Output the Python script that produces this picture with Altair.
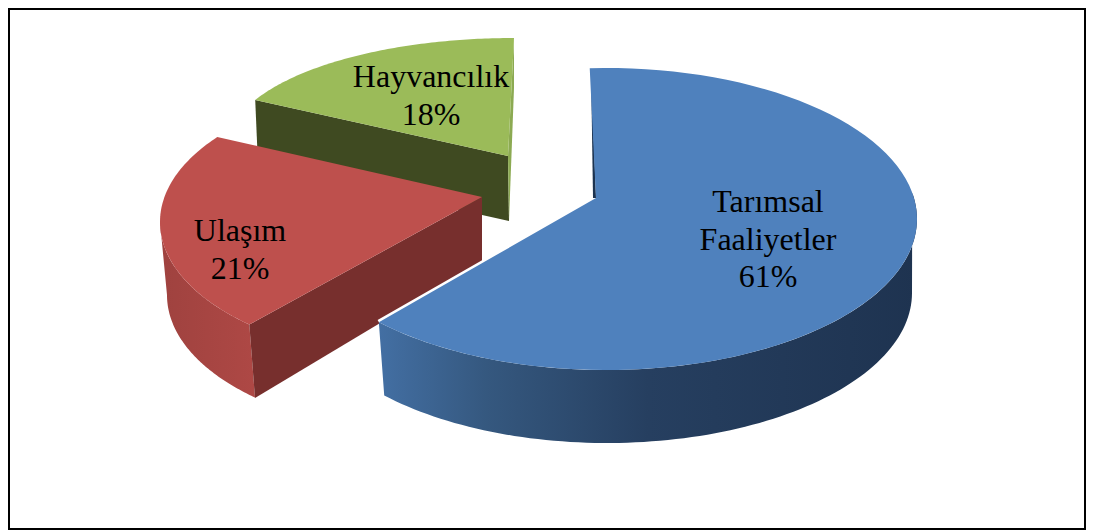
import numpy as np
import pandas as pd
import altair as alt

labels = [["Tarımsal", "Faaliyetler"], ["Ulaşım"], ["Hayvancılık"]]
values = [61, 21, 18]

# perspective fit of each exploded slice
W, H = 1076, 520
X0, Y0 = 9, 9
xs = alt.Scale(domain=[X0, X0 + W], nice=False, zero=False)
ys = alt.Scale(domain=[Y0 + H, Y0], nice=False, zero=False)


def arc(cx, cy, a, b, t1, t2, n=90):
    t = np.radians(np.linspace(t1, t2, n))
    return list(zip(cx + a * np.sin(t), cy - b * np.cos(t)))


def poly(points, fill):
    df = pd.DataFrame(points, columns=["x", "y"])
    df["i"] = range(len(df))
    return alt.Chart(df).mark_line(
        fill=fill, stroke=None, strokeWidth=0, interpolate="linear-closed", clip=False
    ).encode(
        x=alt.X("x:Q", axis=None, scale=xs),
        y=alt.Y("y:Q", axis=None, scale=ys),
        order="i:Q",
    )


def grad(stops):
    return alt.Gradient(
        gradient="linear", x1=0, x2=1, y1=0, y2=0,
        stops=[alt.GradientStop(color=c, offset=o) for o, c in stops],
    )


shares = [v / 100 * 360 for v in values]

# green slice
g_s = sum(shares[:2])
g_e = g_s + shares[2]
g_top = arc(514, 146, 286, 108, g_s, g_e)
green_wall = poly([g_top[0], (508, 156), (509, 221), (258, 165)], "#3F4A21")
green_side = poly([(514, 38), (514, 88), (509, 221), (508, 156)], "#8CAA52")
green_face = poly(g_top + [(508, 156)], "#9BBB59")

# red slice
r_s = 222
r_e = r_s + shares[1] * 1.1376
r_top = arc(430, 222, 270, 138, r_s, r_e)
r_outer = arc(430, 222, 270, 138, r_s, 270) + arc(433, 295, 266, 138, 270, r_s)
red_outer = poly(r_outer, grad([(0, "#9F423F"), (1, "#AE4845")]))
red_wall = poly([r_top[0], (482, 197), (482, 262), (255, 398)], "#772F2D")
red_face = poly(r_top + [(482, 197)], "#BE504D")

# blue slice
b_s = -3
b_e = b_s + shares[0] * 1.047
b_top = arc(606, 219, 311, 151, b_s, b_e)
b_outer = arc(606, 219, 311, 151, 80, b_e) + arc(607, 293, 305, 150, b_e, 90)
blue_outer = poly(b_outer, grad([(0, "#436FA3"), (0.2, "#35587F"), (0.5, "#263F60"), (1, "#1E3350")]))
blue_side = poly([(591, 68), (596, 198), (593, 198)], "#1C3350")
blue_edge = alt.Chart(pd.DataFrame({"x": [596, b_top[-1][0]], "y": [198, b_top[-1][1]], "i": [0, 1]})).mark_line(
    stroke="white", strokeWidth=5
).encode(x=alt.X("x:Q", axis=None, scale=xs), y=alt.Y("y:Q", axis=None, scale=ys), order="i:Q")
blue_face = poly(b_top + [(596, 198)], "#4F81BD")

text_rows = []
anchors = [(768, 212), (240, 241), (431, 87)]
for lab, v, (x, y) in zip(labels, values, anchors):
    lines = lab + [f"{v}%"]
    for k, s in enumerate(lines):
        text_rows.append({"x": x, "y": y + k * 37.5, "s": s})
texts = alt.Chart(pd.DataFrame(text_rows)).mark_text(
    font="Liberation Serif", fontSize=32, color="black", align="center", baseline="alphabetic"
).encode(
    x=alt.X("x:Q", axis=None, scale=xs),
    y=alt.Y("y:Q", axis=None, scale=ys),
    text="s:N",
)

chart = alt.layer(
    green_wall, green_side, green_face,
    red_outer, red_wall, red_face,
    blue_edge, blue_outer, blue_side, blue_face,
    texts,
).properties(
    width=W, height=H, padding=1, autosize=alt.AutoSizeParams(type="none"), background="white"
).configure_view(stroke="black", strokeWidth=2)

chart.save("out.html", embed_options={"renderer": "svg", "actions": False})
